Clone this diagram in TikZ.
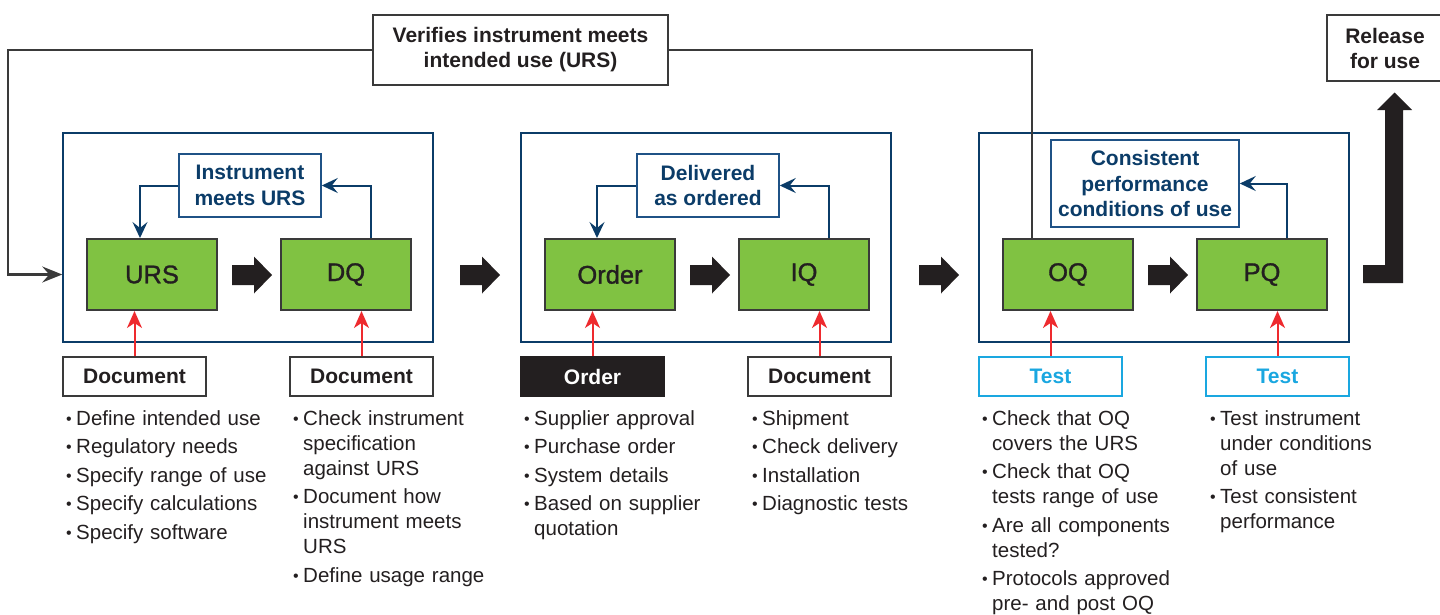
\documentclass[tikz,border=0pt]{standalone}
\usepackage{fontspec}
\setmainfont{Liberation Sans}
\newfontface\medfont[FakeBold=1.2]{Liberation Sans}
\usetikzlibrary{arrows.meta}
\definecolor{gr}{HTML}{80C242}
\definecolor{dk}{HTML}{231F20}
\definecolor{nb}{HTML}{0B3C68}
\definecolor{lb}{HTML}{1F5286}
\definecolor{cy}{HTML}{1AA7E0}
\definecolor{rd}{HTML}{EE2A2E}
\definecolor{bx}{HTML}{3A3A3A}
\newcommand{\bul}{\makebox[10pt][l]{\raisebox{1pt}{\fontsize{16}{16}\selectfont •}}}
\newcommand{\itm}[1]{\hangindent=10pt\hangafter=1\noindent\bul#1\par\vspace{3.5pt}}
\begin{document}
\begin{tikzpicture}[x=1pt,y=-1pt,
  outer/.style={draw=nb, line width=1.5pt, minimum width=370pt, minimum height=209pt, inner sep=0pt},
  green/.style={draw=bx, fill=gr, line width=2pt, minimum width=130pt, minimum height=71pt, inner sep=0pt, text=dk, font=\medfont\fontsize{25.5}{28}\selectfont},
  lbl/.style={draw=lb, fill=white, line width=1.5pt, inner sep=0pt, align=center, text=nb, font=\bfseries\fontsize{21}{25.5}\selectfont},
  tb/.style={draw=bx, fill=white, line width=2pt, inner sep=0pt, align=center, text=dk, font=\bfseries\fontsize{21}{25}\selectfont},
  bot/.style={draw=bx, fill=white, line width=2pt, minimum width=143pt, minimum height=39pt, inner sep=0pt, text=dk, font=\bfseries\fontsize{21}{25}\selectfont},
  botk/.style={bot, draw=dk, fill=dk, text=white},
  botc/.style={bot, draw=cy, text=cy},
  lst/.style={text width=220pt, inner sep=0pt, align=left, text=dk, font=\fontsize{20.5}{25}\selectfont, anchor=base west},
  fb/.style={draw=nb, line width=2pt, -{Stealth[length=16pt,width=15pt,inset=6pt]}},
  redarr/.style={draw=rd, line width=2pt, -{Stealth[length=17pt,width=15pt,inset=5pt]}},
  topline/.style={draw=bx, line width=2.2pt},
  fatarrow/.pic={\fill[dk] (0,-10)--(22,-10)--(22,-18.5)--(40,0)--(22,18.5)--(22,10)--(0,10)--cycle;}
]
\useasboundingbox (0,0) rectangle (1440,614);
% outer boxes
\node[outer] (o1) at (248,237.5) {};
\node[outer] (o2) at (706,237.5) {};
\node[outer] (o3) at (1164,237.5) {};
% green steps
\node[green] (urs) at (152,274.5) {URS};
\node[green] (dq) at (346,274.5) {DQ};
\node[green] (ord) at (610,274.5) {Order};
\node[green] (iq) at (804,274.5) {IQ};
\node[green] (oq) at (1068,274.5) {OQ};
\node[green] (pq) at (1262,274.5) {PQ};
% label boxes
\node[lbl, minimum width=142pt, minimum height=63pt] (l1) at (250,185.5) {Instrument\\meets URS};
\node[lbl, minimum width=142pt, minimum height=63pt] (l2) at (708,185.5) {Delivered\\as ordered};
\node[lbl, minimum width=188pt, minimum height=87pt] (l3) at (1145,183.5) {Consistent\\performance\\conditions of use};
% feedback arrows
\draw[fb] ([xshift=-41pt]dq.north east) |- (l1.east);
\draw[fb] (l1.west) -| ([xshift=54pt]urs.north west);
\draw[fb] ([xshift=-41pt]iq.north east) |- (l2.east);
\draw[fb] (l2.west) -| ([xshift=53pt]ord.north west);
\draw[fb] ([xshift=-41pt]pq.north east) |- (l3.east);
% top box and connector
\node[tb, minimum width=295pt, minimum height=70pt] (verif) at (520.5,50) {Verifies instrument meets\\intended use (URS)};
\coordinate (c1) at (8,50);
\draw[topline, -{Stealth[length=20pt,width=16pt,inset=7pt]}] (verif.west) -- (c1) |- (o1.west |- urs.west);
\draw[topline] (verif.east) -| ([xshift=30pt]oq.north west);
% release
\node[tb, minimum width=116pt, minimum height=66pt] (rel) at (1385,48) {Release\\for use};
\fill[dk] (1363,265)--(1385,265)--(1385,110)--(1377,110)--(1394.5,92.5)--(1412,110)--(1403,110)--(1403,283)--(1363,283)--cycle;
% fat arrows
\pic at (232,275) {fatarrow};
\pic at (460,275) {fatarrow};
\pic at (690,275) {fatarrow};
\pic at (919,275) {fatarrow};
\pic at (1148,275) {fatarrow};
% bottom boxes
\node[bot] (b1) at (134.5,376.5) {Document};
\node[bot] (b2) at (361.5,376.5) {Document};
\node[botk] (b3) at (592.5,376.5) {Order};
\node[bot] (b4) at (819.5,376.5) {Document};
\node[botc] (b5) at (1050.5,376.5) {Test};
\node[botc] (b6) at (1277.5,376.5) {Test};
\draw[redarr] (b1.north) -- (b1.north |- urs.south);
\draw[redarr] (b2.north) -- (b2.north |- dq.south);
\draw[redarr] (b3.north) -- (b3.north |- ord.south);
\draw[redarr] (b4.north) -- (b4.north |- iq.south);
\draw[redarr] (b5.north) -- (b5.north |- oq.south);
\draw[redarr] (b6.north) -- (b6.north |- pq.south);
% lists
\node[lst] (t1) at (66,425) {\itm{Define intended use}\itm{Regulatory needs}\itm{Specify range of use}\itm{Specify calculations}\itm{Specify software}};
\node[lst] (t2) at (293,425) {\itm{Check instrument\newline specification\newline against URS}\itm{Document how\newline instrument meets\newline URS}\itm{Define usage range}};
\node[lst] (t3) at (524,425) {\itm{Supplier approval}\itm{Purchase order}\itm{System details}\itm{Based on supplier\newline quotation}};
\node[lst] (t4) at (752,425) {\itm{Shipment}\itm{Check delivery}\itm{Installation}\itm{Diagnostic tests}};
\node[lst] (t5) at (982,425) {\itm{Check that OQ\newline covers the URS}\itm{Check that OQ\newline tests range of use}\itm{Are all components\newline tested?}\itm{Protocols approved\newline pre- and post OQ}};
\node[lst] (t6) at (1210,425) {\itm{Test instrument\newline under conditions\newline of use}\itm{Test consistent\newline performance}};
\end{tikzpicture}
\end{document}
